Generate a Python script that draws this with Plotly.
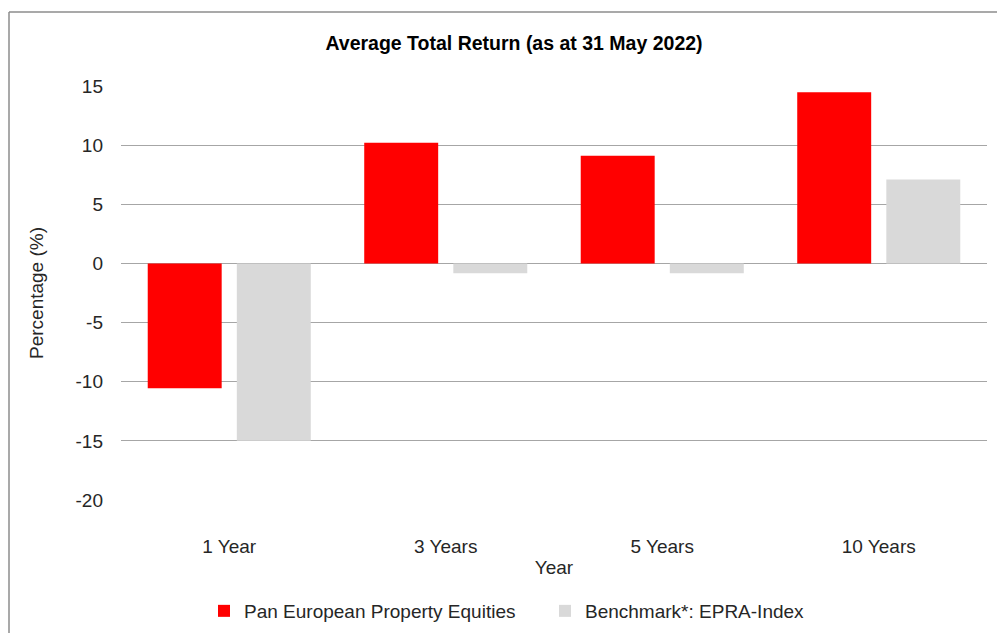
import plotly.graph_objects as go

categories = ["1 Year", "3 Years", "5 Years", "10 Years"]
fund_name = "Pan European Property Equities"
fund_values = [-10.55, 10.2, 9.1, 14.48]
bench_name = "Benchmark*: EPRA-Index"
bench_values = [-15.0, -0.84, -0.84, 7.1]
y_ticks = [15, 10, 5, 0, -5, -10, -15, -20]
y_tick_text = ["15", "10", "5", "0", "-5", "-10", "-15", "-20"]

# page is offset by the default 8px body margin
OX, OY = 8, 8
W, H = 1005 - OX, 633 - OY
L, R, T, B = 121 - OX, 987 - OX, 86 - OY, 500 - OY

def px_x(p):
    return (p - OX - L) / (R - L)

def px_y(p):
    return (B - (p - OY)) / (B - T)

font_family = "Liberation Sans, Arial, sans-serif"

fig = go.Figure()
fig.add_trace(go.Bar(x=categories, y=fund_values, name=fund_name,
                     marker=dict(color="#ff0000", line=dict(width=0))))
fig.add_trace(go.Bar(x=categories, y=bench_values, name=bench_name,
                     marker=dict(color="#d9d9d9", line=dict(width=0))))

fig.update_layout(
    width=W, height=H,
    margin=dict(l=L, r=W - R, t=T, b=H - B, autoexpand=False),
    paper_bgcolor="white", plot_bgcolor="white",
    font=dict(family=font_family, size=19, color="#262626"),
    barmode="group", bargap=0.177, bargroupgap=0.17,
    title=dict(text="<b>Average Total Return (as at 31 May 2022)</b>",
               x=(514 - OX) / W, xanchor="center",
               y=1 - (43 - OY) / H, yanchor="middle",
               font=dict(size=19.5, color="#000000")),
    showlegend=True,
    legend=dict(orientation="h", x=px_x(204), xanchor="left",
                y=px_y(611), yanchor="middle",
                font=dict(size=19, color="#262626"),
                itemwidth=30, entrywidth=296, entrywidthmode="pixels",
                traceorder="normal", bgcolor="rgba(0,0,0,0)"),
    xaxis=dict(showgrid=False, showline=False, ticks="",
               ticklabelstandoff=33,
               title=dict(text="Year", standoff=4, font=dict(size=19))),
    yaxis=dict(range=[-20, 15], tickvals=y_ticks, ticktext=y_tick_text,
               showgrid=True, gridcolor="#a6a6a6", gridwidth=1,
               zeroline=True, zerolinecolor="#a6a6a6", zerolinewidth=1,
               showline=False, ticks="", ticklabelstandoff=17,
               title=dict(text="Percentage (%)", standoff=26, font=dict(size=19))),
    shapes=[
        dict(type="line", xref="paper", yref="paper",
             x0=px_x(9), x1=px_x(1010), y0=px_y(12), y1=px_y(12),
             line=dict(color="#8c8c8c", width=1.5)),
        dict(type="line", xref="paper", yref="paper",
             x0=px_x(9), x1=px_x(9), y0=px_y(12), y1=px_y(640),
             line=dict(color="#8c8c8c", width=1.5)),
    ],
)

fig.write_html("out.html")
